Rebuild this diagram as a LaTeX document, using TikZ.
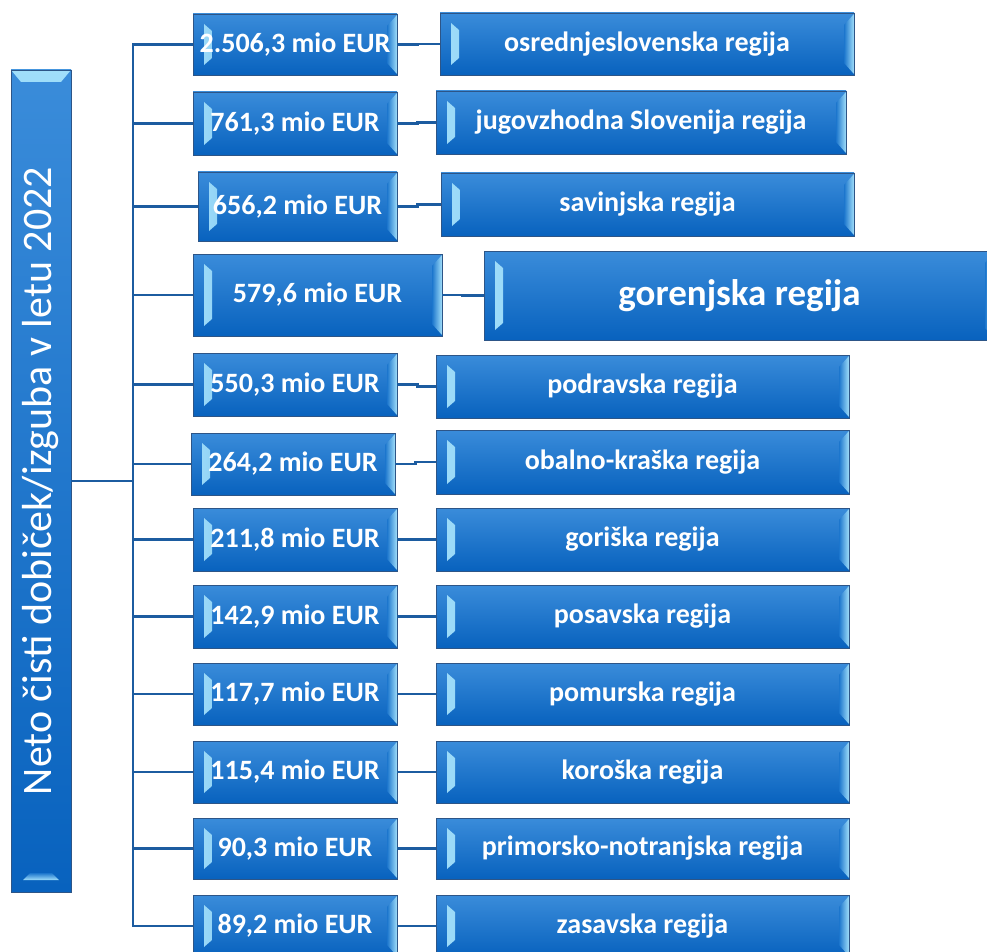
\documentclass[tikz,border=0pt]{standalone}
\usepackage{fontspec}
\setmainfont{Carlito}
\usepackage{graphicx}
\definecolor{tiletop}{RGB}{58,140,218}
\definecolor{tilebot}{RGB}{8,98,190}
\definecolor{tilemid}{RGB}{28,118,205}
\definecolor{tileedge}{RGB}{45,85,135}
\definecolor{bevel}{RGB}{160,222,250}
\definecolor{wireblue}{RGB}{28,92,160}
\tikzset{
  tile/.style={rectangle, draw=tileedge, line width=0.8pt,
    top color=tiletop, bottom color=tilebot, text=white, inner sep=0pt,
    font=\bfseries\fontsize{28}{30}\selectfont,
    path picture={
      %% left bevel
      \shade[left color=bevel, right color=tilemid]
        ([shift={(11,10)}]path picture bounding box.north west)
        -- ([shift={(19,17)}]path picture bounding box.north west)
        -- ([shift={(19,-17)}]path picture bounding box.south west)
        -- ([shift={(11,-10)}]path picture bounding box.south west) -- cycle;
      %% right bevel
      \shade[left color=tilemid, right color=bevel]
        ([shift={(-10,12)}]path picture bounding box.north east)
        -- ([shift={(0,1)}]path picture bounding box.north east)
        -- ([shift={(0,-1)}]path picture bounding box.south east)
        -- ([shift={(-10,-12)}]path picture bounding box.south east) -- cycle;
    }},
  titletile/.style={rectangle, draw=tileedge, line width=0.8pt,
    top color=tiletop, bottom color=tilebot, text=white, inner sep=0pt,
    font=\fontsize{42}{44}\selectfont,
    path picture={
      %% top bevel
      \shade[top color=bevel, bottom color=tilemid]
        (path picture bounding box.north west)
        -- (path picture bounding box.north east)
        -- ([shift={(-10,12)}]path picture bounding box.north east)
        -- ([shift={(10,12)}]path picture bounding box.north west) -- cycle;
      %% bottom bevel
      \shade[top color=tilemid, bottom color=bevel]
        ([shift={(19,-19)}]path picture bounding box.south west)
        -- ([shift={(-19,-19)}]path picture bounding box.south east)
        -- ([shift={(-12,-12)}]path picture bounding box.south east)
        -- ([shift={(12,-12)}]path picture bounding box.south west) -- cycle;
    }},
  wire/.style={draw=wireblue, line width=2.4pt},
}
\begin{document}
\begin{tikzpicture}[x=1pt,y=-1pt]
        \useasboundingbox (0,0) rectangle (987,952);
        %% Title
        \node[titletile, minimum width=60, minimum height=822] (title) at (41,481)
            {\rotatebox{90}{Neto čisti dobiček/izguba v letu 2022}};
        %% Amounts
        \node[tile, minimum width=204, minimum height=61] (v1)  at (295,44.5)   {2.506,3 mio EUR};
        \node[tile, minimum width=204, minimum height=63] (v2)  at (295,123.5)  {761,3 mio EUR};
        \node[tile, minimum width=199, minimum height=69] (v3)  at (297.5,206.5){656,2 mio EUR};
        \node[tile, minimum width=249, minimum height=82] (v4)  at (317.5,295)  {579,6 mio EUR};
        \node[tile, minimum width=204, minimum height=63] (v5)  at (295,384.5)  {550,3 mio EUR};
        \node[tile, minimum width=204, minimum height=62] (v6)  at (293,464)    {264,2 mio EUR};
        \node[tile, minimum width=204, minimum height=63] (v7)  at (295,539.5)  {211,8 mio EUR};
        \node[tile, minimum width=204, minimum height=63] (v8)  at (295,616.5)  {142,9 mio EUR};
        \node[tile, minimum width=204, minimum height=62] (v9)  at (295,694)    {117,7 mio EUR};
        \node[tile, minimum width=204, minimum height=62] (v10) at (295,772)    {115,4 mio EUR};
        \node[tile, minimum width=204, minimum height=61] (v11) at (295,848.5)  {90,3 mio EUR};
        \node[tile, minimum width=204, minimum height=62] (v12) at (295,926)    {89,2 mio EUR};
        %% Regions
        \node[tile, minimum width=414, minimum height=62] (r1)  at (647,44)     {osrednjeslovenska regija};
        \node[tile, minimum width=410, minimum height=63] (r2)  at (641,122.5)  {jugovzhodna Slovenija regija};
        \node[tile, minimum width=413, minimum height=63] (r3)  at (647.5,204.5){savinjska regija};
        \node[tile, minimum width=511, minimum height=89,
              font=\bfseries\fontsize{37}{40}\selectfont] (r4) at (739.5,295.5) {gorenjska regija};
        \node[tile, minimum width=413, minimum height=63] (r5)  at (642.5,386.5){podravska regija};
        \node[tile, minimum width=413, minimum height=64] (r6)  at (642.5,462)  {obalno-kraška regija};
        \node[tile, minimum width=413, minimum height=63] (r7)  at (642.5,539.5){goriška regija};
        \node[tile, minimum width=413, minimum height=63] (r8)  at (642.5,616.5){posavska regija};
        \node[tile, minimum width=413, minimum height=62] (r9)  at (642.5,694)  {pomurska regija};
        \node[tile, minimum width=413, minimum height=62] (r10) at (642.5,772)  {koroška regija};
        \node[tile, minimum width=413, minimum height=61] (r11) at (642.5,848.5){primorsko-notranjska regija};
        \node[tile, minimum width=413, minimum height=62] (r12) at (642.5,926)  {zasavska regija};
        %% Bus
        \coordinate (bustop) at (133,44.5);
        \coordinate (busbot) at (133,926);
        \draw[wire, line cap=rect] (bustop) -- (busbot);
        \draw[wire] (title.east) -- (title.east -| bustop);
        %% Branches
        \draw[wire] (v1.west)  -- (v1.west -| bustop);
        \draw[wire] (v2.west)  -- (v2.west -| bustop);
        \draw[wire] (v3.west)  -- (v3.west -| bustop);
        \draw[wire] (v4.west)  -- (v4.west -| bustop);
        \draw[wire] (v5.west)  -- (v5.west -| bustop);
        \draw[wire] (v6.west)  -- (v6.west -| bustop);
        \draw[wire] (v7.west)  -- (v7.west -| bustop);
        \draw[wire] (v8.west)  -- (v8.west -| bustop);
        \draw[wire] (v9.west)  -- (v9.west -| bustop);
        \draw[wire] (v10.west) -- (v10.west -| bustop);
        \draw[wire] (v11.west) -- (v11.west -| bustop);
        \draw[wire] (v12.west) -- (v12.west -| bustop);
        %% Links
        \draw[wire] (v1.east)  -- +(20,0) |- (r1.west);
        \draw[wire] (v2.east)  -- +(20,0) |- (r2.west);
        \draw[wire] (v3.east)  -- +(20,0) |- (r3.west);
        \draw[wire] (v4.east)  -- +(20,0) |- (r4.west);
        \draw[wire] (v5.east)  -- +(20,0) |- (r5.west);
        \draw[wire] (v6.east)  -- +(20,0) |- (r6.west);
        \draw[wire] (v7.east)  -- +(20,0) |- (r7.west);
        \draw[wire] (v8.east)  -- +(20,0) |- (r8.west);
        \draw[wire] (v9.east)  -- +(20,0) |- (r9.west);
        \draw[wire] (v10.east) -- +(20,0) |- (r10.west);
        \draw[wire] (v11.east) -- +(20,0) |- (r11.west);
        \draw[wire] (v12.east) -- +(20,0) |- (r12.west);
    \end{tikzpicture}
\end{document}
